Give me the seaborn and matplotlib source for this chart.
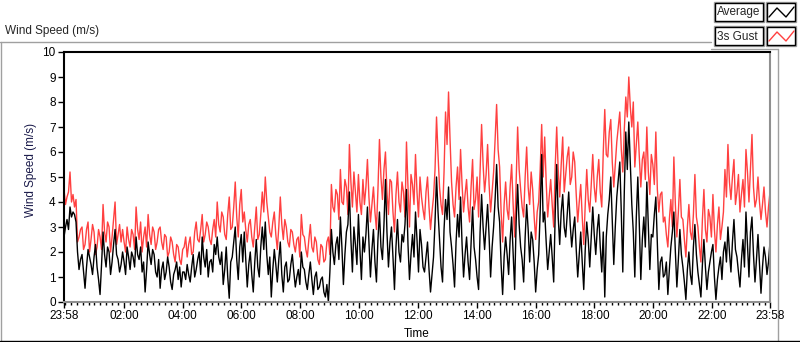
import numpy as np
import matplotlib
matplotlib.use("Agg")
import matplotlib.pyplot as plt
import seaborn as sns
from matplotlib.patches import Rectangle
from matplotlib.ticker import FixedLocator

# Wind speed over one day (23:58 -> 23:58), ~3 min apart
# one row per 2 hours
gust = [
    4.5, 3.9, 4.2, 4.4, 5.2, 4.0, 4.3, 3.8, 4.1, 2.4, 2.6, 2.9, 3.0, 2.1, 2.3, 2.9, 3.2, 2.0, 2.5, 3.1,
    2.8, 1.9, 2.2, 2.9, 2.6, 2.1, 3.9, 2.8, 2.4, 3.2, 3.0, 2.0, 2.6, 3.3, 4.0, 2.3, 2.7, 3.1, 2.4, 2.9,
    2.4, 2.0, 3.0, 2.5, 2.2, 2.9, 2.7, 2.1, 3.8, 2.9, 2.5, 3.2, 2.0, 2.6, 3.0, 2.2, 3.5, 2.7, 2.3, 3.0,
    2.8, 2.1, 2.4, 2.9, 3.0, 2.4, 2.1, 2.7, 2.6, 1.8, 2.0, 2.6, 2.4, 1.9, 1.6, 2.3, 2.2, 1.7, 1.5, 2.1,
    2.2, 2.6, 1.8, 2.3, 2.6, 1.9, 2.0, 2.8, 3.2, 2.5, 2.4, 2.9, 3.5, 2.4, 2.7, 3.2, 3.0, 2.5, 2.3, 2.9,
    3.3, 2.6, 4.0, 3.1, 2.8, 3.6, 3.4, 2.7, 2.5, 3.5, 4.2, 2.9, 3.0, 3.8, 4.8, 3.4, 2.6, 3.9, 4.5, 3.2,
    3.6, 2.9, 2.4, 3.1, 3.3, 2.6, 2.2, 3.0, 3.8, 2.5, 2.7, 3.5, 4.4, 3.6, 5.0, 4.0, 3.4, 2.8, 2.6, 3.2,
    3.6, 2.7, 2.1, 3.0, 4.2, 3.1, 2.5, 3.3, 3.0, 2.4, 2.2, 2.9, 2.8, 2.3, 2.0, 2.5, 2.6, 1.8, 3.5, 2.7,
    2.6, 2.1, 1.8, 2.5, 3.1, 2.2, 2.0, 2.6, 2.4, 1.7, 1.5, 2.3, 2.2, 1.6, 1.7, 2.4, 2.6, 1.9, 4.7, 3.8,
    3.6, 4.5, 4.3, 3.3, 5.3, 4.0, 3.9, 4.9, 4.6, 3.5, 6.3, 4.8, 3.8, 5.2, 4.4, 3.6, 5.1, 4.0, 3.5, 4.9,
    3.9, 4.6, 5.7, 4.2, 3.2, 3.9, 4.6, 3.6, 2.9, 4.5, 6.5, 5.0, 4.1, 5.3, 6.0, 4.4, 3.5, 4.9, 4.8, 3.6,
    2.8, 4.3, 5.2, 4.0, 3.6, 4.8, 4.4, 3.4, 6.4, 4.6, 3.0, 5.1, 4.7, 3.9, 5.9, 4.4, 3.4, 5.0, 4.2, 3.7,
    3.3, 4.4, 5.0, 3.8, 2.9, 3.6, 4.2, 5.3, 7.4, 5.9, 4.6, 3.9, 3.5, 5.2, 7.6, 6.3, 8.4, 6.5, 4.8, 3.9,
    3.4, 4.6, 5.4, 4.1, 6.1, 4.7, 3.6, 4.3, 4.9, 3.8, 3.2, 4.6, 5.7, 3.7, 4.1, 5.0, 3.4, 5.2, 7.1, 5.5,
    4.4, 5.1, 6.3, 4.7, 3.6, 4.4, 5.2, 6.5, 7.9, 6.1, 5.4, 3.6, 2.4, 3.9, 4.8, 3.7, 3.3, 4.6, 5.5, 3.9,
    2.6, 4.8, 7.0, 5.3, 4.5, 3.8, 3.4, 5.0, 6.2, 4.6, 3.9, 5.2, 4.5, 3.4, 2.5, 3.6, 4.0, 5.3, 7.1, 5.0,
    6.6, 4.8, 3.4, 4.2, 4.9, 3.9, 3.0, 5.4, 7.0, 5.3, 4.2, 5.5, 6.6, 4.4, 5.1, 5.8, 6.2, 4.7, 5.0, 6.0,
    5.6, 4.3, 3.2, 4.0, 4.7, 3.4, 2.3, 3.9, 5.3, 4.1, 3.6, 4.7, 5.9, 4.6, 4.0, 5.0, 5.7, 4.4, 3.8, 6.0,
    7.7, 5.9, 5.8, 6.8, 7.3, 5.6, 4.6, 5.5, 6.4, 7.0, 7.6, 6.1, 5.2, 6.9, 8.2, 7.4, 9.0, 7.8, 7.0, 8.0,
    5.4, 6.3, 7.2, 5.8, 4.6, 5.7, 6.0, 4.9, 7.0, 5.2, 4.3, 5.9, 5.5, 4.7, 6.8, 4.5, 3.6, 4.3, 4.4, 3.2,
    3.4, 2.7, 2.2, 3.3, 4.1, 3.0, 5.8, 3.9, 2.6, 3.6, 4.9, 3.4, 3.3, 2.5, 1.8, 3.0, 3.9, 2.8, 2.5, 3.5,
    5.1, 3.4, 3.0, 2.2, 1.6, 3.3, 4.5, 2.9, 2.4, 3.7, 3.4, 2.6, 4.3, 2.9, 2.0, 3.1, 3.8, 2.5, 3.0, 3.6,
    5.3, 4.2, 6.3, 4.8, 4.1, 5.0, 5.7, 3.9, 4.4, 5.1, 3.6, 4.3, 4.9, 3.8, 6.1, 5.2, 4.0, 5.4, 6.7, 4.6,
    3.8, 4.1, 5.0, 4.0, 3.3, 3.9, 4.6, 3.6, 3.0, 3.8, 4.4,
]

average = [
    2.6, 3.0, 3.3, 2.9, 3.8, 3.4, 3.6, 3.5, 3.2, 2.0, 1.3, 1.7, 1.9, 1.2, 0.55, 1.4, 2.1, 1.8, 1.5, 1.1,
    1.8, 2.3, 1.4, 0.9, 0.3, 1.5, 2.8, 1.9, 1.4, 2.2, 2.0, 1.1, 1.6, 2.3, 2.9, 1.9, 1.7, 1.2, 1.5, 2.0,
    1.6, 1.1, 2.2, 1.8, 1.3, 2.0, 1.8, 1.4, 2.6, 1.9, 1.7, 2.2, 1.2, 1.6, 0.4, 1.3, 2.4, 1.9, 1.5, 2.1,
    1.9, 1.2, 1.0, 1.7, 0.55, 1.3, 1.6, 0.9, 1.2, 1.8, 1.4, 0.8, 0.5, 1.1, 1.3, 1.6, 0.9, 1.4, 0.6, 1.2,
    1.2, 0.9, 1.5, 1.1, 0.8, 1.4, 1.9, 1.0, 1.3, 1.7, 2.0, 1.1, 2.6, 1.8, 1.4, 2.1, 1.0, 1.6, 1.7, 1.2,
    2.3, 1.9, 2.6, 1.8, 1.5, 2.0, 0.7, 1.3, 2.2, 1.0, 0.15, 1.6, 1.8, 2.4, 3.0, 1.7, 0.9, 2.2, 2.7, 1.6,
    2.8, 1.7, 0.6, 1.5, 2.0, 1.1, 0.4, 1.6, 2.5, 1.4, 1.0, 2.2, 3.0, 2.1, 3.2, 1.9, 1.1, 1.8, 0.2, 1.3,
    2.1, 1.5, 0.8, 1.7, 2.4, 1.1, 0.4, 1.4, 1.6, 0.8, 0.9, 1.5, 1.9, 1.2, 0.6, 1.0, 1.3, 0.7, 2.0, 1.4,
    1.3, 0.8, 0.5, 1.1, 1.6, 0.9, 0.3, 1.0, 1.2, 0.5, 0.6, 0.9, 1.0, 0.4, 0.2, 0.7, 0.0, 1.2, 2.9, 2.0,
    1.5, 2.3, 2.6, 1.7, 3.4, 2.2, 0.7, 1.9, 2.8, 3.1, 4.4, 2.5, 1.2, 3.0, 2.3, 1.5, 3.5, 2.1, 0.9, 2.6,
    2.0, 2.7, 3.8, 2.4, 1.0, 2.1, 2.9, 1.6, 0.8, 2.5, 3.6, 2.2, 1.7, 3.1, 4.9, 2.8, 1.4, 2.4, 3.0, 1.8,
    0.5, 2.2, 3.3, 2.0, 1.6, 2.7, 2.4, 3.1, 4.5, 2.3, 0.9, 1.9, 2.7, 1.8, 3.6, 2.5, 1.2, 2.9, 2.3, 1.4,
    1.2, 1.8, 2.4, 1.3, 0.4, 1.1, 1.8, 3.2, 5.0, 3.6, 2.5, 1.4, 0.8, 2.9, 4.1, 3.3, 4.6, 2.8, 2.2, 1.5,
    0.6, 2.4, 3.5, 2.6, 4.2, 2.3, 1.0, 1.9, 2.6, 1.6, 0.9, 2.4, 3.8, 2.2, 1.7, 1.0, 0.5, 2.8, 4.3, 3.0,
    2.1, 3.0, 3.9, 2.6, 1.0, 2.2, 3.0, 4.1, 5.5, 3.8, 3.2, 1.5, 0.3, 1.8, 2.6, 1.9, 1.1, 2.5, 3.4, 2.0,
    0.5, 3.2, 4.7, 3.1, 2.2, 1.7, 0.8, 2.6, 3.9, 2.9, 1.6, 2.8, 2.5, 1.6, 0.4, 1.3, 1.9, 3.6, 5.9, 3.2,
    3.6, 2.4, 1.3, 2.0, 2.7, 1.8, 0.8, 3.5, 5.5, 3.4, 2.3, 3.6, 4.3, 3.0, 2.6, 3.5, 4.4, 3.1, 2.2, 2.9,
    3.4, 2.1, 1.0, 1.9, 2.8, 1.6, 0.5, 2.1, 3.2, 2.5, 1.4, 2.6, 3.8, 2.7, 1.9, 2.9, 3.5, 2.2, 1.2, 2.8,
    0.2, 2.6, 3.5, 4.1, 5.0, 3.3, 1.5, 3.0, 4.2, 4.9, 5.6, 3.6, 1.2, 4.4, 6.8, 5.3, 7.2, 5.6, 3.9, 2.8,
    1.0, 3.4, 5.0, 3.1, 0.9, 2.5, 3.4, 2.2, 4.8, 3.0, 1.3, 2.7, 2.6, 3.5, 4.2, 2.3, 0.5, 1.6, 1.8, 1.0,
    1.1, 1.6, 0.3, 1.3, 2.2, 2.8, 3.6, 2.0, 0.6, 1.7, 2.9, 1.9, 1.4, 0.8, 0.1, 1.3, 2.0, 1.1, 0.7, 2.2,
    3.1, 1.9, 1.2, 0.7, 0.2, 1.5, 2.5, 1.4, 0.5, 1.2, 1.6, 2.0, 2.3, 1.0, 0.1, 0.9, 1.4, 1.8, 0.9, 2.0,
    2.4, 1.6, 3.0, 2.0, 1.2, 2.4, 3.3, 2.1, 1.8, 1.2, 0.6, 1.7, 2.5, 1.4, 3.6, 2.3, 1.0, 2.8, 3.4, 1.9,
    0.8, 1.7, 2.7, 1.5, 0.35, 1.4, 2.2, 1.8, 1.1, 1.6, 2.4,
]

# hours since 23:58 of the previous day
hours = np.linspace(0, 24, len(gust))

tick_labels = ["23:58", "02:00", "04:00", "06:00", "08:00", "10:00", "12:00",
               "14:00", "16:00", "18:00", "20:00", "22:00", "23:58"]
tick_pos = [0] + [h + 2 / 60 for h in range(2, 24, 2)] + [24]

sns.set_style("white")
plt.rcParams["font.family"] = ["Liberation Sans", "DejaVu Sans"]

fig = plt.figure(figsize=(8, 3.42), dpi=100)

# pixel-space overlay for the frame / legend decorations
bg = fig.add_axes([0, 0, 1, 1])
bg.set_xlim(0, 800)
bg.set_ylim(342, 0)
bg.axis("off")

ax = fig.add_axes([64 / 800, 40 / 342, 706 / 800, 250 / 342])
sns.lineplot(x=hours, y=gust, ax=ax, color="#ff4040", lw=1)
sns.lineplot(x=hours, y=average, ax=ax, color="black", lw=1)

ax.set_xlim(0, 24)
ax.set_ylim(0, 10)
ax.set_yticks(range(0, 11))
ax.set_xticks(tick_pos)
ax.set_xticklabels(tick_labels)
ax.xaxis.set_minor_locator(FixedLocator(np.arange(2 / 60, 24, 0.2)))
ax.tick_params(axis="both", which="major", direction="out", length=4, width=1,
               colors="black", labelsize=8.5, pad=2, bottom=True, left=True)
ax.tick_params(axis="x", which="minor", direction="out", length=2.5, width=1,
               color="black", bottom=True)

for side in ["left", "top"]:
    ax.spines[side].set_color("black")
    ax.spines[side].set_linewidth(1.5)
for side in ["right", "bottom"]:
    ax.spines[side].set_color("#909090")
    ax.spines[side].set_linewidth(1.5)

ax.set_ylabel("Wind Speed (m/s)", fontsize=8.5, color="#1a1a4a")
ax.yaxis.set_label_coords(-0.038, 0.528)
ax.set_xlabel("Time", fontsize=8.5, color="black")
ax.xaxis.set_label_coords(0.5, -0.104)

# outer chart frame
bg.plot([0, 711], [42, 42], color="#a0a0a0", lw=1)
bg.plot([1, 1], [42, 341], color="#a0a0a0", lw=1)
bg.plot([711, 778], [49, 49], color="#a0a0a0", lw=1)
bg.plot([778, 778], [49, 341], color="#a0a0a0", lw=1)
bg.plot([0, 800], [341, 341], color="black", lw=1)

bg.text(5, 31, "Wind Speed (m/s)", fontsize=8.5, va="center", ha="left")

# legend boxes
for y0, name, col in [(3, "Average", "black"), (27, "3s Gust", "#ff4040")]:
    bg.add_patch(Rectangle((714, y0 - 1), 50, 20, facecolor="white", edgecolor="#a0a0a0", lw=1))
    bg.add_patch(Rectangle((715, y0), 48, 18, facecolor="white", edgecolor="black", lw=1))
    bg.text(717, y0 + 9.5, name, fontsize=8.5, va="center", ha="left")
    bg.add_patch(Rectangle((766, y0 - 1), 30, 20, facecolor="white", edgecolor="#a0a0a0", lw=1))
    bg.add_patch(Rectangle((767, y0), 28, 18, facecolor="white", edgecolor="black", lw=1))
    bg.plot([769, 777, 786, 794], [y0 + 14, y0 + 5, y0 + 14, y0 + 4], color=col, lw=1)

fig.savefig("out.png", dpi=100)
